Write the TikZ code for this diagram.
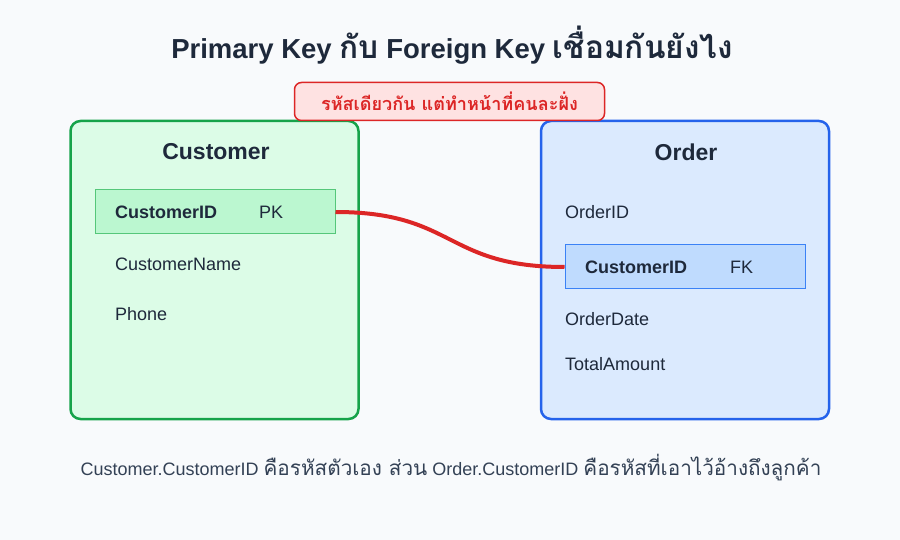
\documentclass[tikz,border=0pt]{standalone}
\usepackage{fontspec}
\setmainfont{Liberation Sans}
\newfontfamily\thaifont[Script=Thai,Scale=1.15]{Loma}
\usepackage{xcolor}
\usetikzlibrary{arrows.meta,positioning}
\definecolor{bgcol}{HTML}{F8FAFC}
\definecolor{inkcol}{HTML}{1E293B}
\definecolor{notecol}{HTML}{334155}
\definecolor{redline}{HTML}{DC2626}
\definecolor{redfill}{HTML}{FEE2E2}
\definecolor{grnline}{HTML}{16A34A}
\definecolor{grnfill}{HTML}{DCFCE7}
\definecolor{grnrow}{HTML}{BBF7D0}
\definecolor{grnrowline}{HTML}{55C77A}
\definecolor{bluline}{HTML}{2563EB}
\definecolor{blufill}{HTML}{DBEAFE}
\definecolor{blurow}{HTML}{BFDBFE}
\definecolor{blurowline}{HTML}{3B82F6}

\begin{document}
\begin{tikzpicture}[x=1pt, y=-1pt, >=Latex,
  every node/.style={font=\fontsize{18}{20}\selectfont, text=inkcol, inner sep=0pt},
  table/.style={draw, line width=2.5pt, rounded corners=10pt, minimum width=288pt, minimum height=298pt},
  keyrow/.style={draw, line width=1pt, minimum width=240pt, minimum height=44pt},
  field/.style={anchor=west},
  tabletitle/.style={font=\fontsize{23}{26}\selectfont\bfseries}]
\fill[bgcol] (0,0) rectangle (900,540);
\node[font=\fontsize{27.5}{30}\selectfont\bfseries] (title) at (452,45) {Primary Key {\thaifont กับ} Foreign Key {\thaifont เชื่อมกันยังไง}};
\node[table, draw=grnline, fill=grnfill] (cust) at (214.5,270) {};
\node[table, draw=bluline, fill=blufill] (ord) at (685,270) {};
\node[draw=redline, fill=redfill, line width=1.5pt, rounded corners=7pt, minimum width=310pt, minimum height=38pt, text=redline, font=\fontsize{15.7}{18}\selectfont\bfseries\thaifont] (same) at (449.5,101.5) {รหัสเดียวกัน แต่ทำหน้าที่คนละฝั่ง};
\node[tabletitle] (custname) at (216,152) {Customer};
\node[tabletitle] (ordname) at (686,152) {Order};
\node[keyrow, draw=grnrowline, fill=grnrow] (pk) at (215,212) {};
\node[field, font=\fontsize{18}{20}\selectfont\bfseries] (pkname) at (115,212) {CustomerID};
\node[field] (pktag) at (259,212) {PK};
\node[field] (cname) at (115,264) {CustomerName};
\node[field] (cphone) at (115,314) {Phone};
\node[field] (oid) at (565,212) {OrderID};
\node[keyrow, draw=blurowline, fill=blurow] (fk) at (685,267) {};
\node[field, font=\fontsize{18}{20}\selectfont\bfseries] (fkname) at (585,267) {CustomerID};
\node[field] (fktag) at (730,267) {FK};
\node[field] (odate) at (565,319) {OrderDate};
\node[field] (oamount) at (565,364) {TotalAmount};
\draw[redline, line width=4pt] (pk.east) .. controls +(120,0) and +(-120,0) .. (fk.west);
\node[text=notecol] (note) at (451,468) {Customer.CustomerID {\thaifont คือรหัสตัวเอง ส่วน} Order.CustomerID {\thaifont คือรหัสที่เอาไว้อ้างถึงลูกค้า}};
\end{tikzpicture}
\end{document}
